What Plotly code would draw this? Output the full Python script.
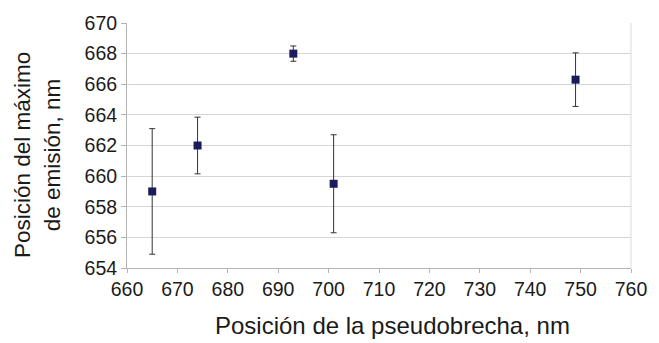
import plotly.graph_objects as go

# Pseudogap position vs. emission maximum position, with error bars
pseudobrecha = [665, 674, 693, 701, 749]
max_emision = [659.0, 662.0, 668.0, 659.5, 666.3]
error = [4.1, 1.85, 0.5, 3.2, 1.75]

x_ticks = list(range(660, 761, 10))
y_ticks = list(range(654, 671, 2))

x_title = "Posición de la pseudobrecha, nm"
y_title = "Posición del máximo<br>de emisión, nm"

fig = go.Figure()
fig.add_trace(go.Scatter(
    x=pseudobrecha,
    y=max_emision,
    mode="markers",
    marker=dict(symbol="square", size=8, color="#1c1c5c"),
    error_y=dict(type="data", array=error, visible=True,
                 color="#333333", thickness=1, width=3),
    showlegend=False,
))

font = "Liberation Sans, Arial, sans-serif"
fig.update_layout(
    width=659, height=343,
    margin=dict(l=127, r=19, t=19, b=75),
    paper_bgcolor="white", plot_bgcolor="white",
    font=dict(family=font, size=19, color="#1a1a1a"),
    xaxis=dict(
        range=[660, 760], tickvals=x_ticks,
        showgrid=False, zeroline=False,
        showline=True, linecolor="#b3b3b3", linewidth=1, mirror=False,
        ticks="outside", ticklen=4, tickcolor="#b3b3b3",
        tickfont=dict(size=19.5),
    ),
    yaxis=dict(
        range=[654, 670], tickvals=y_ticks,
        showgrid=True, gridcolor="#d6d6d6", gridwidth=1, zeroline=False,
        showline=True, linecolor="#b3b3b3", linewidth=1,
        ticks="outside", ticklen=5, tickcolor="#b3b3b3",
        tickfont=dict(size=19.5),
    ),
    annotations=[
        dict(text=x_title, xref="paper", yref="paper", x=0.527, y=-0.235,
             xanchor="center", yanchor="middle", showarrow=False,
             font=dict(size=24)),
        dict(text=y_title, xref="paper", yref="paper", x=-0.178, y=0.462,
             xanchor="center", yanchor="middle", showarrow=False,
             textangle=-90, font=dict(size=22.5)),
    ],
)
# light right-hand border of the plotting area
fig.add_shape(type="line", xref="paper", yref="paper", x0=1, x1=1, y0=0, y1=1,
              line=dict(color="#dcdcdc", width=1))

fig.write_html("out.html")
